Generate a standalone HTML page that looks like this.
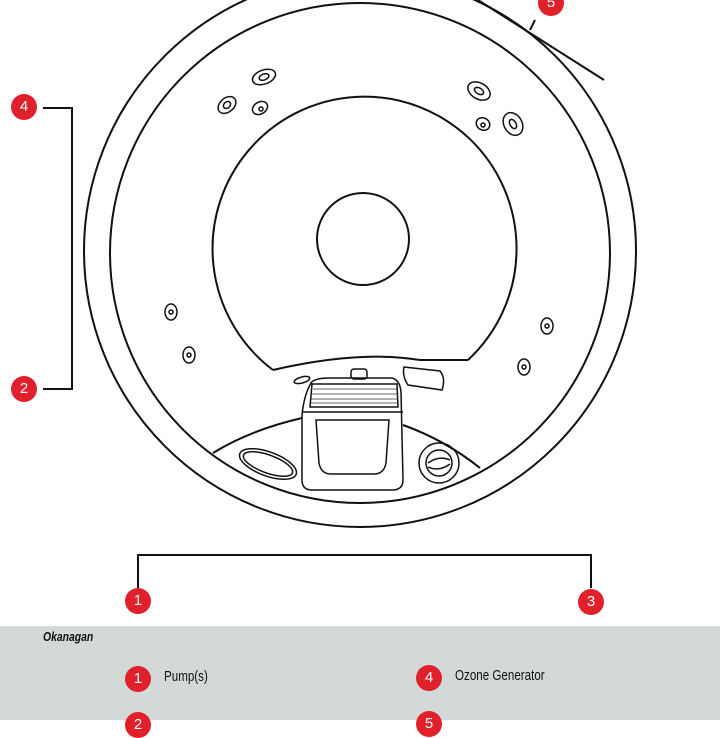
<!DOCTYPE html>
<html><head><meta charset="utf-8"><style>
html,body{margin:0;padding:0;background:#fff;}
body{width:720px;height:720px;overflow:hidden;position:relative;font-family:"Liberation Sans",sans-serif;}
.panel{position:absolute;left:0;top:626px;width:720px;height:94px;background:#d2d9d8;}
.t{position:absolute;font-size:14.5px;color:#111;transform:scaleX(0.8);transform-origin:left;}
.b{position:absolute;width:26px;height:26px;border-radius:50%;background:#e0202a;color:#fff;font-size:15px;text-align:center;line-height:26px;}
</style></head><body>
<svg width="720" height="720" style="position:absolute;left:0;top:0" fill="none" stroke="#111" stroke-width="2">
<circle cx="360" cy="251" r="276"/>
<circle cx="360" cy="253" r="250"/>
<line x1="478" y1="0" x2="604" y2="80"/>
<line x1="530" y1="30" x2="535" y2="20"/>
<path d="M273,370 A152,152 0 1 1 468,360"/>
<path d="M273,370 Q360,350 420,360 L468,360"/>
<circle cx="363" cy="239" r="46"/>
<path d="M213,453 Q250,430 302,418"/>
<path d="M403,425 Q445,440 480,468"/>
<g stroke-width="1.5">
<ellipse cx="264" cy="77" rx="12" ry="7" transform="rotate(-20 264 77)"/><ellipse cx="264" cy="77" rx="5" ry="3" transform="rotate(-20 264 77)"/>
<ellipse cx="227" cy="105" rx="10" ry="7" transform="rotate(-40 227 105)"/><ellipse cx="227" cy="105" rx="4" ry="3" transform="rotate(-40 227 105)"/>
<ellipse cx="260" cy="108" rx="8" ry="6" transform="rotate(-30 260 108)"/><circle cx="261" cy="109" r="2"/>
<ellipse cx="479" cy="91" rx="12" ry="8" transform="rotate(30 479 91)"/><ellipse cx="479" cy="91" rx="5" ry="3" transform="rotate(30 479 91)"/>
<ellipse cx="483" cy="124" rx="7" ry="6" transform="rotate(30 483 124)"/><circle cx="483" cy="125" r="2"/>
<ellipse cx="513" cy="124" rx="9" ry="12" transform="rotate(-30 513 124)"/><ellipse cx="513" cy="124" rx="3" ry="5" transform="rotate(-30 513 124)"/>
<ellipse cx="171" cy="312" rx="6" ry="8"/><circle cx="171" cy="312" r="2"/>
<ellipse cx="189" cy="355" rx="6" ry="8"/><circle cx="189" cy="355" r="2"/>
<ellipse cx="547" cy="326" rx="6" ry="8"/><circle cx="547" cy="326" r="2"/>
<ellipse cx="524" cy="367" rx="6" ry="8"/><circle cx="524" cy="367" r="2"/>
<ellipse cx="302" cy="380" rx="8" ry="3" transform="rotate(-15 302 380)"/>
<ellipse cx="268" cy="464" rx="30" ry="12" transform="rotate(20 268 464)"/><ellipse cx="268" cy="464" rx="26" ry="9" transform="rotate(20 268 464)"/>
<circle cx="439" cy="463" r="20"/><circle cx="439" cy="463" r="13"/><path d="M428,463 Q439,455 450,460 M428,467 Q439,472 450,464"/>
<path d="M404,367 L440,371 Q446,378 442,390 L408,385 Q402,376 404,367Z"/>
<rect x="351" y="369" width="16" height="10" rx="3"/>
<path d="M311,383 Q314,378 330,378 L392,378 Q400,380 401,392 L403,480 Q403,490 392,490 L312,490 Q302,490 302,480 L302,415 Q304,395 311,383Z"/>
<path d="M312,384 L397,384 L398,407 L310,407Z"/>
<path d="M302,412 L403,412"/>
<path d="M316,420 L389,420 L386,463 Q384,474 374,474 L331,474 Q321,474 319,463Z"/>
</g>
<g stroke-width="0.8" stroke="#333">
<path d="M313,389 H397 M312,394 H397 M311,399 H398 M311,403 H398"/>
</g>
<path d="M43,108 H72 V389 H43"/>
<path d="M138,588 V555 H591 V588"/>
</svg>
<div class="b" style="left:11px;top:94px">4</div>
<div class="b" style="left:11px;top:376px">2</div>
<div class="b" style="left:125px;top:588px">1</div>
<div class="b" style="left:578px;top:589px">3</div>
<div class="b" style="left:538px;top:-10px">5</div>
<div class="panel"></div>
<div class="t" style="left:43px;top:629px;font-style:italic;font-weight:bold;font-size:13px">Okanagan</div>
<div class="b" style="left:125px;top:666px">1</div>
<div class="t" style="left:164px;top:669px">Pump(s)</div>
<div class="b" style="left:416px;top:665px">4</div>
<div class="t" style="left:455px;top:668px">Ozone Generator</div>
<div class="b" style="left:125px;top:712px">2</div>
<div class="b" style="left:416px;top:711px">5</div>
</body></html>
